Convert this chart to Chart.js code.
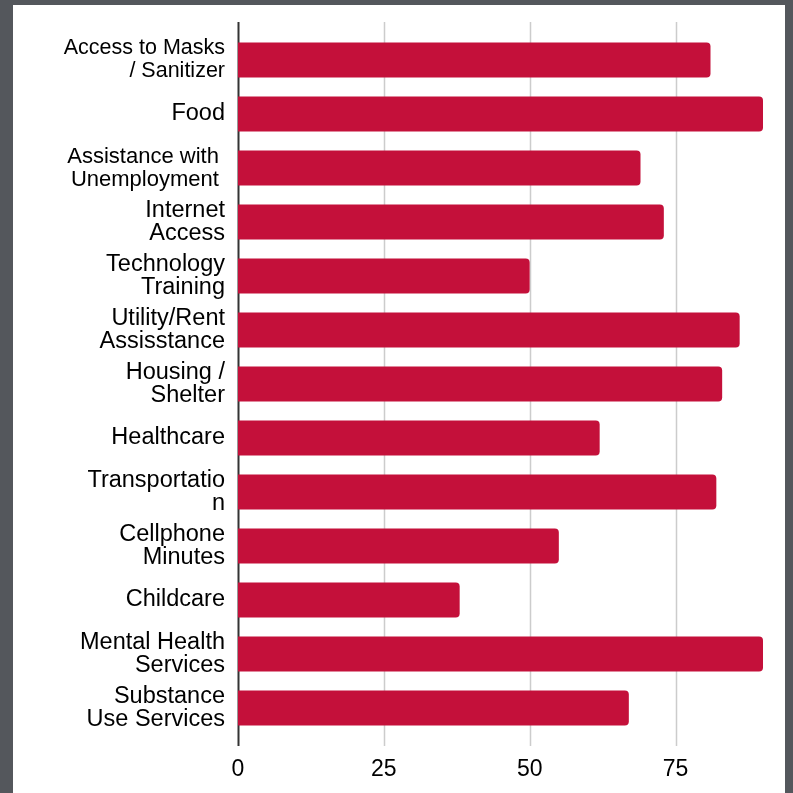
<!DOCTYPE html>
<html>
<head>
  <title>Community Needs</title>
  <script src="https://cdn.jsdelivr.net/npm/chart.js"></script>
  <style>
    body {
      margin: 0;
      background: #54575c;
      width: 793px;
      height: 793px;
      overflow: hidden;
    }

    .card {
      position: absolute;
      left: 13px;
      top: 5px;
      width: 772px;
      height: 788px;
      background: white;
    }
  </style>
</head>
<body>

  <div class="card">
    <canvas id="needsChart" width="772" height="788"></canvas>
  </div>

  <script>
    const categories = [
      ["Access to Masks", "/ Sanitizer"],
      "Food",
      ["Assistance with ", "Unemployment "],
      ["Internet", "Access"],
      ["Technology", "Training"],
      ["Utility/Rent", "Assisstance"],
      ["Housing /", "Shelter"],
      "Healthcare",
      ["Transportatio", "n"],
      ["Cellphone", "Minutes"],
      "Childcare",
      ["Mental Health", "Services"],
      ["Substance", "Use Services"]
    ];
    const values = [81, 90, 69, 73, 50, 86, 83, 62, 82, 55, 38, 90, 67];
    const xTicks = [0, 25, 50, 75];

    // grid lines run a little past the bars, top and bottom
    const longGrid = {
      id: "longGrid",
      beforeDatasetsDraw(chart) {
        const { ctx, chartArea } = chart;
        const x = chart.scales.x;
        ctx.save();
        xTicks.forEach(v => {
          const px = Math.round(x.getPixelForValue(v)) + 0.5;
          ctx.beginPath();
          ctx.strokeStyle = v === 0 ? "#333333" : "#cccccc";
          ctx.lineWidth = v === 0 ? 2 : 1.5;
          ctx.moveTo(px, chartArea.top - 11);
          ctx.lineTo(px, chartArea.bottom + 11);
          ctx.stroke();
        });
        ctx.restore();
      }
    };

    const ctx = document.getElementById("needsChart").getContext("2d");
    new Chart(ctx, {
      type: "bar",
      data: {
        labels: categories,
        datasets: [{
          data: values,
          backgroundColor: "#c4103a",
          borderRadius: 4,
          categoryPercentage: 1,
          barPercentage: 0.65
        }]
      },
      options: {
        indexAxis: "y",
        responsive: false,
        animation: false,
        layout: { padding: { top: 28, right: 22, left: 0, bottom: 0 } },
        plugins: {
          legend: { display: false },
          tooltip: { enabled: false }
        },
        scales: {
          x: {
            min: 0,
            max: 90,
            grid: { display: false, drawTicks: false },
            border: { display: false },
            afterFit: s => { s.height = 58; },
            ticks: {
              stepSize: 25,
              includeBounds: false,
              padding: 21,
              color: "#000",
              font: { family: "Liberation Sans, Arial", size: 23 }
            }
          },
          y: {
            grid: { display: false, drawTicks: false },
            border: { display: false },
            afterFit: s => {
              s.width = 225;
              s.paddingTop = 0;
              s.paddingBottom = 0;
            },
            ticks: {
              padding: 13,
              autoSkip: false,
              color: "#000",
              // the first and third labels are set a bit smaller in the original
              font: c => {
                if (c.index === 0) return { family: "Liberation Sans, Arial", size: 21.5, lineHeight: "23px" };
                if (c.index === 2) return { family: "Liberation Sans, Arial", size: 22, lineHeight: "23px" };
                return { family: "Liberation Sans, Arial", size: 23.5, lineHeight: "23px" };
              }
            }
          }
        }
      },
      plugins: [longGrid]
    });
  </script>

</body>
</html>
